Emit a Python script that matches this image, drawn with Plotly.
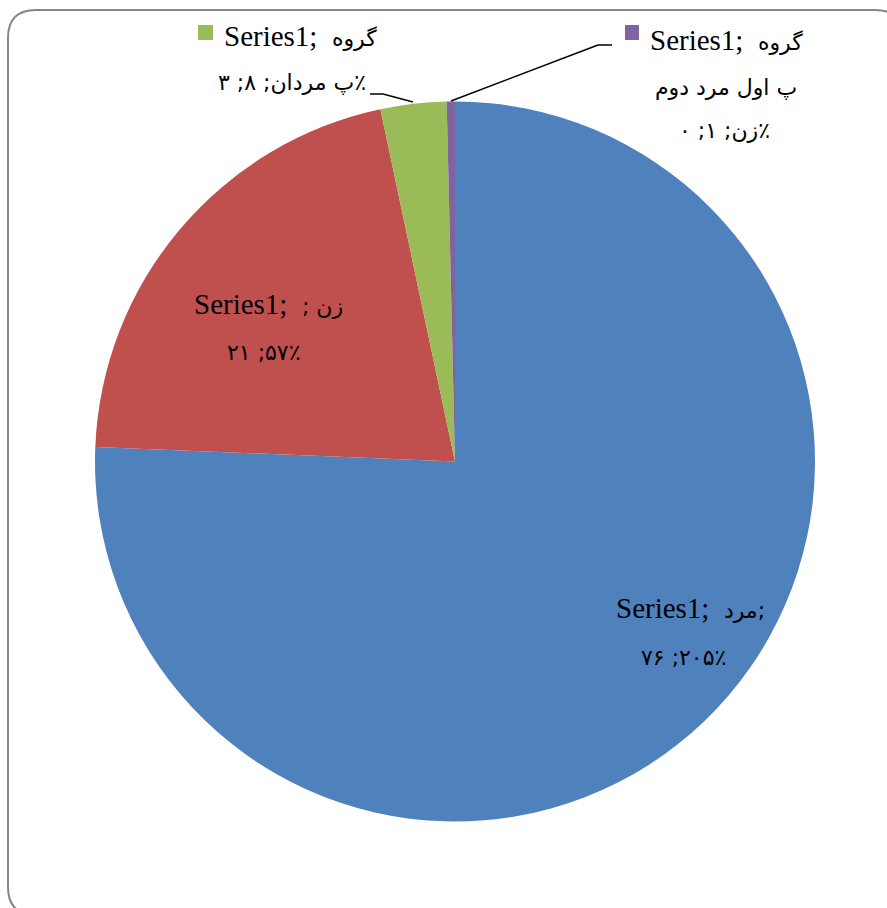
import plotly.graph_objects as go

W, H = 887, 908

# ---- data ----
categories = ["مرد", "زن", "گروه پ مردان", "گروه پ اول مرد دوم زن"]
values = [205, 57, 8, 1]
colors = ["#4F81BD", "#C0504D", "#9BBB59", "#8064A2"]

LRM = "\u200e"
series_name = "Series1;  "
word_blue = "مرد;"
word_red = "; زن"
word_group = "گروه"
label_blue2 = "۷۶ ;۲۰۵٪"
label_red2 = "۲۱ ;۵۷٪"
label_green2 = "۳ ;۸ ;مردان" + LRM + " " + LRM + "پ" + LRM + "٪"
label_purple2 = "پ اول مرد دوم"
label_purple3 = "۰ ;۱ ;زن" + LRM + "٪"


def px(x):
    return x / W


def py(y):
    return 1 - y / H


LATIN = "Liberation Serif, DejaVu Sans"


def ar(t, size=22):
    return f'<span style="font-size:{size}px;font-family:DejaVu Sans">{t}</span>'


fig = go.Figure()
fig.add_trace(go.Pie(
    labels=categories,
    values=values,
    marker=dict(colors=colors, line=dict(width=0)),
    sort=False,
    direction="clockwise",
    rotation=0,
    textinfo="none",
    hoverinfo="label+value+percent",
    showlegend=False,
    domain=dict(x=[px(95), px(815)], y=[py(822), py(101)]),
))

ann = []


def add(text, x, y, xanchor="center", size=29, family=LATIN):
    ann.append(dict(text=text, x=px(x), y=py(y), xref="paper", yref="paper",
                    xanchor=xanchor, yanchor="middle", showarrow=False,
                    font=dict(family=family, size=size, color="#000000")))


add(series_name + ar(word_group), 222, 36, "left")
add(label_green2, 368, 82, "right", 22, "DejaVu Sans")
add(series_name + ar(word_group), 648, 40, "left")
add(label_purple2, 726, 88, "center", 22, "DejaVu Sans")
add(label_purple3, 724, 130, "center", 22, "DejaVu Sans")
add(series_name + ar(word_red), 192, 304, "left")
add(label_red2, 264, 352, "center", 22, "DejaVu Sans")
add(series_name + ar(word_blue), 614, 608, "left")
add(label_blue2, 683, 657, "center", 22, "DejaVu Sans")

shapes = []


def seg(x0, y0, x1, y1):
    shapes.append(dict(type="line", xref="paper", yref="paper",
                       x0=px(x0), y0=py(y0), x1=px(x1), y1=py(y1),
                       line=dict(color="#000000", width=1.5)))


# leader lines
seg(370, 94, 383, 94)
seg(383, 94, 413, 102)
seg(598, 45, 612, 45)
seg(598, 45, 451, 101)

# legend keys
shapes.append(dict(type="rect", xref="paper", yref="paper",
                   x0=px(198), x1=px(213), y0=py(40), y1=py(25),
                   fillcolor=colors[2], line=dict(width=0)))
shapes.append(dict(type="rect", xref="paper", yref="paper",
                   x0=px(625), x1=px(639), y0=py(40), y1=py(25),
                   fillcolor=colors[3], line=dict(width=0)))

# rounded chart border
x0, y0, x1, y1, r = 8, 10, 903, 915, 28


def P(x, y):
    return f"{px(x):.5f},{py(y):.5f}"


path = (f"M {P(x0, y0 + r)} Q {P(x0, y0)} {P(x0 + r, y0)} L {P(x1 - r, y0)} "
        f"Q {P(x1, y0)} {P(x1, y0 + r)} L {P(x1, y1 - r)} Q {P(x1, y1)} {P(x1 - r, y1)} "
        f"L {P(x0 + r, y1)} Q {P(x0, y1)} {P(x0, y1 - r)} Z")
shapes.append(dict(type="path", xref="paper", yref="paper", path=path,
                   line=dict(color="#868686", width=2), layer="below"))

fig.update_layout(
    width=W, height=H,
    margin=dict(l=0, r=0, t=0, b=0),
    paper_bgcolor="white",
    plot_bgcolor="white",
    annotations=ann,
    shapes=shapes,
)

fig.write_html("out.html")
